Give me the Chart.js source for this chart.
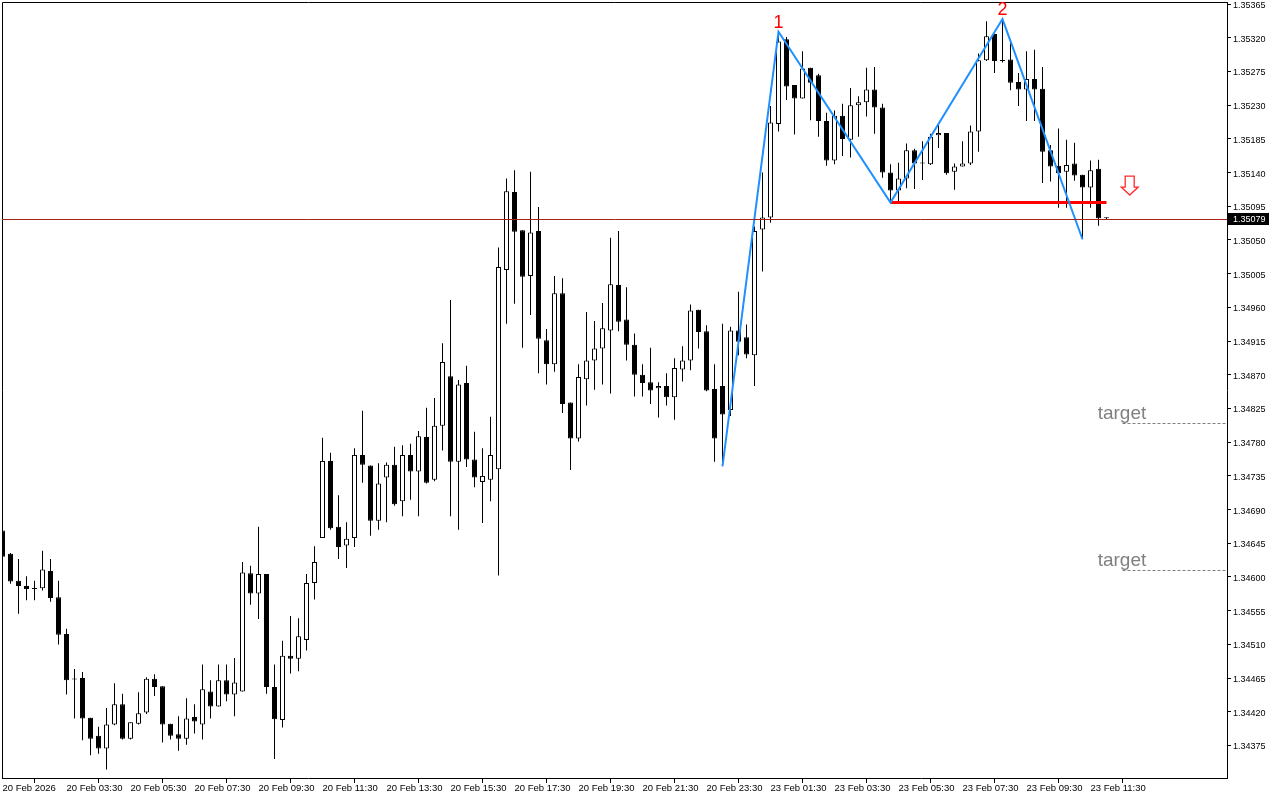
<!DOCTYPE html>
<html>
<head>
<meta charset="utf-8">
<style>
  html, body { margin: 0; padding: 0; background: #fff; }
  #wrap { width: 1280px; height: 800px; }
</style>
<script src="https://cdn.jsdelivr.net/npm/chart.js@4.4.1/dist/chart.umd.min.js"></script>
</head>
<body>
<div id="wrap"><canvas id="chart" width="1280" height="800"></canvas></div>
<script>
// 15 minute bars, 20 Feb 01:30 -> 23 Feb 12:00
const opens = [
  1.34662, 1.34631, 1.34595, 1.34588, 1.34585, 1.34585, 1.34608, 1.34573, 1.34524, 1.34463,
  1.34465, 1.34412, 1.34388, 1.34371, 1.34403, 1.34430, 1.34384, 1.34404, 1.34419, 1.34464,
  1.34454, 1.34404, 1.34390, 1.34384, 1.34413, 1.34403, 1.34447, 1.34427, 1.34462, 1.34443,
  1.34447, 1.34605, 1.34578, 1.34604, 1.34453, 1.34409, 1.34495, 1.34491, 1.34516, 1.34592,
  1.34652, 1.34755, 1.34667, 1.34642, 1.34652, 1.34763, 1.34749, 1.34675, 1.34733, 1.34750,
  1.34701, 1.34763, 1.34741, 1.34787, 1.34730, 1.34802, 1.34868, 1.34754, 1.34859, 1.34757,
  1.34727, 1.34730, 1.34744, 1.35010, 1.35114, 1.35063, 1.35002, 1.35062, 1.34916, 1.34884,
  1.34979, 1.34833, 1.34785, 1.34864, 1.34889, 1.34905, 1.34929, 1.34990, 1.34944, 1.34910,
  1.34870, 1.34860, 1.34852, 1.34855, 1.34840, 1.34877, 1.34889, 1.34957, 1.34928, 1.34851,
  1.34855, 1.34823, 1.34929, 1.34920, 1.34896, 1.35064, 1.35080, 1.35205, 1.35318, 1.35257,
  1.35239, 1.35280, 1.35270, 1.35209, 1.35156, 1.35216, 1.35184, 1.35230, 1.35234, 1.35251,
  1.35227, 1.35140, 1.35116, 1.35132, 1.35170, 1.35152, 1.35151, 1.35190, 1.35193, 1.35141,
  1.35148, 1.35152, 1.35195, 1.35290, 1.35325, 1.35289, 1.35291, 1.35261, 1.35251, 1.35265,
  1.35252, 1.35170, 1.35149, 1.35141, 1.35152, 1.35137, 1.35120, 1.35145, 1.35079
];
const highs = [
  1.34664, 1.34632, 1.34624, 1.34601, 1.34595, 1.34635, 1.34624, 1.34595, 1.34531, 1.34477,
  1.34473, 1.34412, 1.34400, 1.34425, 1.34458, 1.34444, 1.34406, 1.34446, 1.34466, 1.34470,
  1.34454, 1.34404, 1.34414, 1.34438, 1.34430, 1.34483, 1.34462, 1.34483, 1.34483, 1.34492,
  1.34620, 1.34615, 1.34667, 1.34604, 1.34483, 1.34515, 1.34548, 1.34545, 1.34604, 1.34641,
  1.34786, 1.34766, 1.34709, 1.34673, 1.34772, 1.34822, 1.34749, 1.34752, 1.34753, 1.34774,
  1.34776, 1.34778, 1.34795, 1.34826, 1.34839, 1.34912, 1.34970, 1.34863, 1.34882, 1.34794,
  1.34772, 1.34814, 1.35040, 1.35132, 1.35143, 1.35063, 1.35141, 1.35094, 1.34931, 1.35002,
  1.34999, 1.34833, 1.34884, 1.34954, 1.34942, 1.34966, 1.35053, 1.35062, 1.34987, 1.34925,
  1.34884, 1.34906, 1.34860, 1.34872, 1.34892, 1.34908, 1.34964, 1.34957, 1.34936, 1.34884,
  1.34938, 1.34934, 1.34981, 1.34937, 1.35068, 1.35140, 1.35229, 1.35328, 1.35321, 1.35257,
  1.35302, 1.35280, 1.35272, 1.35220, 1.35223, 1.35232, 1.35253, 1.35242, 1.35280, 1.35281,
  1.35232, 1.35151, 1.35153, 1.35179, 1.35172, 1.35182, 1.35192, 1.35206, 1.35193, 1.35152,
  1.35182, 1.35203, 1.35299, 1.35342, 1.35325, 1.35345, 1.35313, 1.35273, 1.35302, 1.35304,
  1.35281, 1.35177, 1.35199, 1.35184, 1.35180, 1.35137, 1.35156, 1.35157, 1.35080
];
const lows = [
  1.34625, 1.34591, 1.34551, 1.34569, 1.34569, 1.34582, 1.34567, 1.34510, 1.34443, 1.34411,
  1.34382, 1.34362, 1.34364, 1.34343, 1.34402, 1.34383, 1.34383, 1.34403, 1.34417, 1.34441,
  1.34379, 1.34383, 1.34368, 1.34376, 1.34391, 1.34383, 1.34411, 1.34427, 1.34434, 1.34414,
  1.34447, 1.34563, 1.34544, 1.34444, 1.34357, 1.34399, 1.34471, 1.34474, 1.34502, 1.34570,
  1.34652, 1.34663, 1.34624, 1.34612, 1.34640, 1.34726, 1.34655, 1.34663, 1.34673, 1.34695,
  1.34681, 1.34703, 1.34681, 1.34725, 1.34728, 1.34769, 1.34681, 1.34663, 1.34747, 1.34720,
  1.34672, 1.34701, 1.34602, 1.34938, 1.34965, 1.34906, 1.34950, 1.34872, 1.34857, 1.34874,
  1.34819, 1.34743, 1.34781, 1.34829, 1.34850, 1.34857, 1.34845, 1.34928, 1.34889, 1.34841,
  1.34841, 1.34831, 1.34813, 1.34829, 1.34810, 1.34861, 1.34876, 1.34905, 1.34848, 1.34754,
  1.34748, 1.34815, 1.34896, 1.34892, 1.34855, 1.35008, 1.35073, 1.35195, 1.35237, 1.35191,
  1.35239, 1.35210, 1.35188, 1.35149, 1.35151, 1.35162, 1.35160, 1.35188, 1.35215, 1.35192,
  1.35133, 1.35100, 1.35102, 1.35119, 1.35118, 1.35130, 1.35150, 1.35173, 1.35137, 1.35117,
  1.35148, 1.35150, 1.35168, 1.35289, 1.35273, 1.35287, 1.35250, 1.35229, 1.35209, 1.35209,
  1.35126, 1.35128, 1.35093, 1.35093, 1.35129, 1.35051, 1.35093, 1.35069, 1.35078
];
const closes = [
  1.34627, 1.34594, 1.34588, 1.34584, 1.34584, 1.34610, 1.34572, 1.34523, 1.34462, 1.34463,
  1.34411, 1.34384, 1.34371, 1.34403, 1.34430, 1.34384, 1.34406, 1.34418, 1.34464, 1.34453,
  1.34403, 1.34388, 1.34384, 1.34411, 1.34407, 1.34450, 1.34427, 1.34462, 1.34443, 1.34459,
  1.34606, 1.34578, 1.34604, 1.34453, 1.34410, 1.34495, 1.34491, 1.34521, 1.34592, 1.34620,
  1.34755, 1.34665, 1.34640, 1.34651, 1.34763, 1.34750, 1.34675, 1.34725, 1.34750, 1.34697,
  1.34763, 1.34741, 1.34788, 1.34726, 1.34802, 1.34887, 1.34754, 1.34857, 1.34757, 1.34733,
  1.34735, 1.34763, 1.35014, 1.35115, 1.35061, 1.35001, 1.35060, 1.34918, 1.34884, 1.34979,
  1.34831, 1.34785, 1.34867, 1.34889, 1.34905, 1.34932, 1.34991, 1.34941, 1.34910, 1.34870,
  1.34859, 1.34849, 1.34855, 1.34840, 1.34879, 1.34889, 1.34956, 1.34927, 1.34849, 1.34785,
  1.34817, 1.34929, 1.34914, 1.34897, 1.35062, 1.35080, 1.35207, 1.35315, 1.35255, 1.35239,
  1.35279, 1.35260, 1.35209, 1.35156, 1.35216, 1.35185, 1.35230, 1.35234, 1.35251, 1.35227,
  1.35140, 1.35116, 1.35132, 1.35170, 1.35152, 1.35152, 1.35188, 1.35193, 1.35139, 1.35148,
  1.35152, 1.35195, 1.35290, 1.35322, 1.35289, 1.35289, 1.35260, 1.35251, 1.35265, 1.35251,
  1.35168, 1.35148, 1.35139, 1.35150, 1.35136, 1.35120, 1.35143, 1.35079, 1.35079
];

const timeLabels = [
  '20 Feb 2026', '20 Feb 03:30', '20 Feb 05:30', '20 Feb 07:30', '20 Feb 09:30', '20 Feb 11:30',
  '20 Feb 13:30', '20 Feb 15:30', '20 Feb 17:30', '20 Feb 19:30', '20 Feb 21:30', '20 Feb 23:30',
  '23 Feb 01:30', '23 Feb 03:30', '23 Feb 05:30', '23 Feb 07:30', '23 Feb 09:30', '23 Feb 11:30'
];
const timeTickBars = [0, 8, 16, 24, 32, 40, 48, 56, 64, 72, 80, 88, 96, 104, 112, 120, 128, 136];
const priceTicks = [
  1.35365, 1.35320, 1.35275, 1.35230, 1.35185, 1.35140, 1.35095, 1.35050, 1.35005, 1.34960,
  1.34915, 1.34870, 1.34825, 1.34780, 1.34735, 1.34690, 1.34645, 1.34600, 1.34555, 1.34510,
  1.34465, 1.34420, 1.34375
];

// drawn objects
const zigzagBars = [90, 97, 111, 125, 135];
const zigzagPrices = [1.34748, 1.35328, 1.35100, 1.35345, 1.35051];
const peakNames = ['1', '2'];
const peakBars = [97, 125];
const peakPrices = [1.35328, 1.35345];
const necklineBars = [111, 138];
const necklinePrice = 1.35100;
const bidPrice = 1.35079;
const targetPrices = [1.34805, 1.34609];

const upColor = '#ffffff';
const downColor = '#000000';

const overlay = {
  id: 'overlay',
  afterDatasetsDraw(chart) {
    const { ctx, chartArea: a, scales: { x, y } } = chart;
    ctx.save();

    // frame top + left
    ctx.strokeStyle = '#000';
    ctx.lineWidth = 1;
    ctx.beginPath();
    ctx.moveTo(a.left + 0.5, a.bottom);
    ctx.lineTo(a.left + 0.5, a.top + 0.5);
    ctx.lineTo(a.right, a.top + 0.5);
    ctx.stroke();

    // bid line
    const by = Math.ceil(y.getPixelForValue(bidPrice)) + 0.5;
    ctx.strokeStyle = '#a8201a';
    ctx.beginPath();
    ctx.moveTo(a.left, by);
    ctx.lineTo(a.right, by);
    ctx.stroke();

    // bid label on the price axis
    ctx.fillStyle = '#000';
    ctx.fillRect(a.right + 1, by - 6.5, 41, 12);
    ctx.fillStyle = '#fff';
    ctx.font = "9px 'Liberation Sans', Arial, sans-serif";
    ctx.textAlign = 'left';
    ctx.textBaseline = 'middle';
    ctx.fillText(bidPrice.toFixed(5), a.right + 6, by);

    // peak numbers
    ctx.fillStyle = '#ff0000';
    ctx.font = "18px 'Liberation Sans', Arial, sans-serif";
    ctx.textAlign = 'center';
    ctx.textBaseline = 'alphabetic';
    peakNames.forEach((t, k) => {
      ctx.fillText(t, x.getPixelForValue(peakBars[k]), y.getPixelForValue(peakPrices[k]) - 4);
    });

    // sell arrow
    const ax = x.getPixelForValue(140.9);
    const ay = y.getPixelForValue(1.35110);
    ctx.beginPath();
    ctx.moveTo(ax, ay);
    ctx.lineTo(ax - 8.5, ay - 8);
    ctx.lineTo(ax - 4.5, ay - 8);
    ctx.lineTo(ax - 4.5, ay - 19);
    ctx.lineTo(ax + 4.5, ay - 19);
    ctx.lineTo(ax + 4.5, ay - 8);
    ctx.lineTo(ax + 8.5, ay - 8);
    ctx.closePath();
    ctx.fillStyle = '#fff';
    ctx.fill();
    ctx.strokeStyle = '#ff2a2a';
    ctx.lineWidth = 1.3;
    ctx.stroke();

    // targets
    ctx.font = "19px 'Liberation Sans', Arial, sans-serif";
    ctx.textAlign = 'left';
    ctx.textBaseline = 'alphabetic';
    ctx.lineWidth = 1;
    targetPrices.forEach(p => {
      const ty = Math.floor(y.getPixelForValue(p)) + 0.5;
      ctx.strokeStyle = '#808080';
      ctx.setLineDash([3, 2]);
      ctx.beginPath();
      ctx.moveTo(x.getPixelForValue(140), ty);
      ctx.lineTo(a.right, ty);
      ctx.stroke();
      ctx.setLineDash([]);
      ctx.fillStyle = '#808080';
      ctx.fillText('target', x.getPixelForValue(136.9), ty - 4.5);
    });

    ctx.restore();
  }
};

const bars = opens.map((o, i) => i);

new Chart(document.getElementById('chart'), {
  type: 'bar',
  data: {
    datasets: [
      {
        type: 'line',
        data: zigzagBars.map((b, k) => ({ x: b, y: zigzagPrices[k] })),
        borderColor: '#1e90ff',
        borderWidth: 2,
        pointRadius: 0,
        tension: 0,
        order: 0
      },
      {
        type: 'line',
        data: necklineBars.map(b => ({ x: b, y: necklinePrice })),
        borderColor: '#ff0000',
        borderWidth: 3,
        pointRadius: 0,
        order: 0
      },
      {
        data: bars.map(i => ({ x: i, y: [opens[i], closes[i]] })),
        backgroundColor: bars.map(i => closes[i] > opens[i] ? upColor : downColor),
        borderColor: '#000',
        borderWidth: 1,
        borderSkipped: false,
        barThickness: 5,
        minBarLength: 1,
        inflateAmount: 0,
        grouped: false,
        order: 1
      },
      {
        data: bars.map(i => ({ x: i, y: [lows[i], highs[i]] })),
        backgroundColor: '#000',
        borderWidth: 0,
        barThickness: 1,
        minBarLength: 1,
        inflateAmount: 0,
        grouped: false,
        order: 2
      }
    ]
  },
  options: {
    responsive: false,
    animation: false,
    devicePixelRatio: 1,
    events: [],
    layout: { padding: { left: 2, top: 2, right: 0, bottom: 0 } },
    plugins: { legend: { display: false }, tooltip: { enabled: false } },
    scales: {
      x: {
        type: 'linear',
        min: -0.0625,
        max: 153.0625,
        offset: false,
        grid: { drawOnChartArea: false, drawTicks: true, tickLength: 5, tickColor: '#000' },
        border: { display: true, color: '#000', width: 1 },
        ticks: {
          autoSkip: false,
          maxRotation: 0,
          minRotation: 0,
          align: 'start',
          padding: 0,
          color: '#000',
          font: { family: "'Liberation Sans', Arial, sans-serif", size: 9.5 },
          callback: (v, idx) => timeLabels[idx]
        },
        afterBuildTicks: s => { s.ticks = timeTickBars.map(v => ({ value: v })); },
        afterFit: s => { s.height = 22; s.paddingLeft = 0; s.paddingRight = 0; }
      },
      y: {
        type: 'linear',
        position: 'right',
        min: 1.343316,
        max: 1.353678,
        grid: { drawOnChartArea: false, drawTicks: true, tickLength: 4, tickColor: '#000' },
        border: { display: true, color: '#000', width: 1 },
        ticks: {
          autoSkip: false,
          padding: 2,
          labelOffset: 1.5,
          color: '#000',
          font: { family: "'Liberation Sans', Arial, sans-serif", size: 9 },
          callback: v => v.toFixed(5)
        },
        afterBuildTicks: s => { s.ticks = priceTicks.map(v => ({ value: v })); },
        afterFit: s => { s.width = 53; s.paddingTop = 0; s.paddingBottom = 0; }
      }
    }
  },
  plugins: [overlay]
});
</script>
</body>
</html>
